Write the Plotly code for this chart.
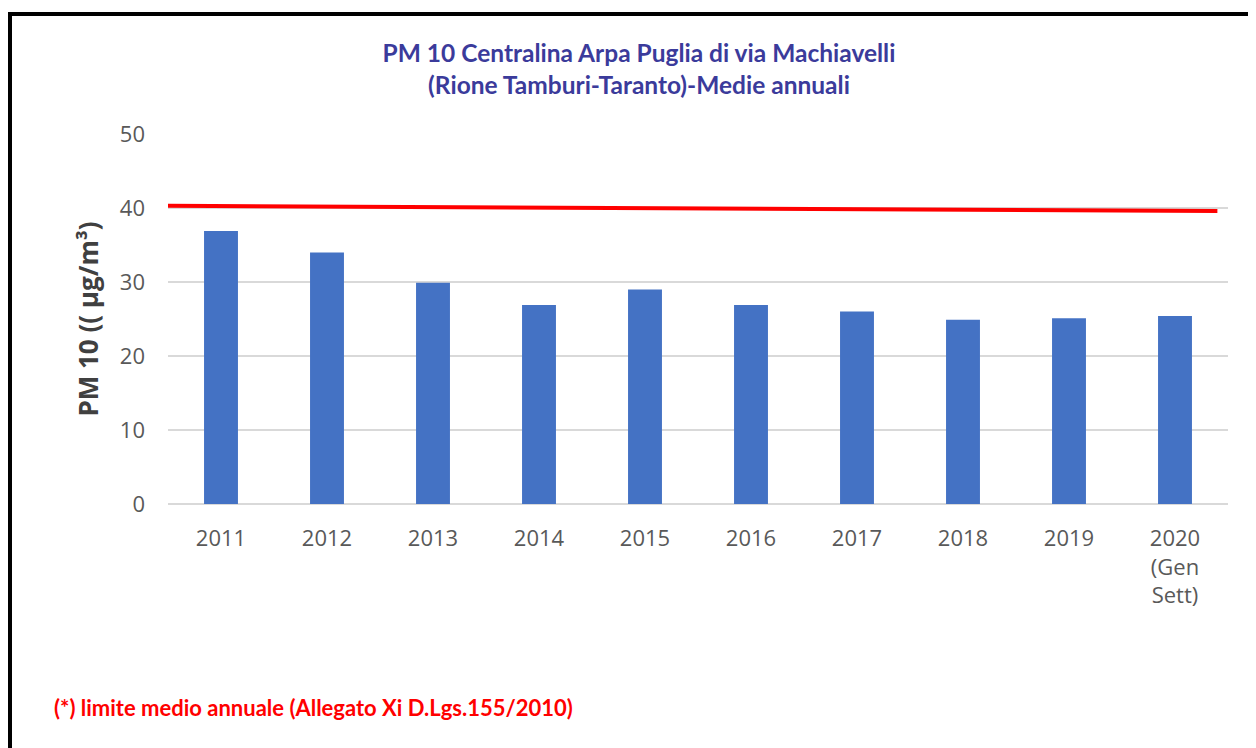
import plotly.graph_objects as go

years = ["2011", "2012", "2013", "2014", "2015", "2016", "2017", "2018", "2019", "2020"]
year_labels = ["2011", "2012", "2013", "2014", "2015", "2016", "2017", "2018", "2019", "2020<br>(Gen<br>Sett)"]
pm10 = [36.9, 34.0, 29.9, 26.9, 29.0, 26.9, 26.0, 24.9, 25.1, 25.4]
limit_y = [40.3, 39.6]  # hand-drawn limit line (40 µg/m³), slightly tilted in the original

title_text = "<b>PM 10 Centralina Arpa Puglia di via Machiavelli<br>(Rione Tamburi-Taranto)-Medie annuali</b>"
ylabel = "<b>PM 10 (( µg/m³)</b>"
footnote = "<b>(*) limite medio annuale (Allegato Xi D.Lgs.155/2010)</b>"

# the page body adds an 8px offset, so the figure is laid out 8px up/left
W, H = 1248, 740
L, R, T, B = 160, 28, 126, 244
pw, ph = W - L - R, H - T - B

def px_x(p):
    return (p - L) / pw

def px_y(p):
    return (H - B - p) / ph

fig = go.Figure()
fig.add_trace(go.Bar(x=years, y=pm10, marker=dict(color="#4472C4", line=dict(width=0)),
                     width=0.32, showlegend=False, hoverinfo="x+y"))
fig.add_trace(go.Scatter(x=[0 - 0.6, len(years) - 1 + 0.4], y=limit_y, mode="lines",
                         line=dict(color="#FF0000", width=4), xaxis="x2", showlegend=False))

fig.update_layout(
    width=W, height=H,
    margin=dict(l=L, r=R, t=T, b=B),
    paper_bgcolor="white", plot_bgcolor="white",
    title=dict(text=title_text, x=631 / W, xanchor="center", xref="container",
               y=1 - 54 / H, yanchor="top", yref="container",
               font=dict(family="Lato", size=24.5, color="#3B3B9B")),
    xaxis=dict(type="category", categoryorder="array", categoryarray=years,
               tickmode="array", tickvals=years, ticktext=year_labels,
               showgrid=False, showline=False, zeroline=False, ticks="",
               ticklabelstandoff=19,
               tickfont=dict(family="Open Sans", size=22, color="#595959"),
               range=[-0.5, 9.5]),
    xaxis2=dict(overlaying="x", range=[-0.5, 9.5], visible=False),
    yaxis=dict(range=[0, 50], dtick=10, tick0=0, showgrid=True, gridcolor="#D9D9D9",
               gridwidth=1.5, zeroline=True, zerolinecolor="#D9D9D9", zerolinewidth=1.5,
               showline=False, ticks="", ticklabelstandoff=22,
               tickfont=dict(family="Open Sans", size=22, color="#595959"),
               title=dict(text=ylabel, standoff=13,
                          font=dict(family="Open Sans", size=26, color="#404040"))),
    bargap=0.68,
)

# frame (top and left edges visible in the original crop)
fig.add_shape(type="line", xref="paper", yref="paper",
              x0=px_x(2), x1=px_x(W + 10), y0=px_y(6), y1=px_y(6),
              line=dict(color="black", width=4))
fig.add_shape(type="line", xref="paper", yref="paper",
              x0=px_x(2), x1=px_x(2), y0=px_y(4), y1=px_y(H + 10),
              line=dict(color="black", width=4))

fig.add_annotation(text=footnote, xref="paper", yref="paper", x=px_x(44), y=px_y(699),
                   xanchor="left", yanchor="middle", showarrow=False,
                   font=dict(family="Lato", size=22, color="#FF0000"))

fig.write_html("out.html")
